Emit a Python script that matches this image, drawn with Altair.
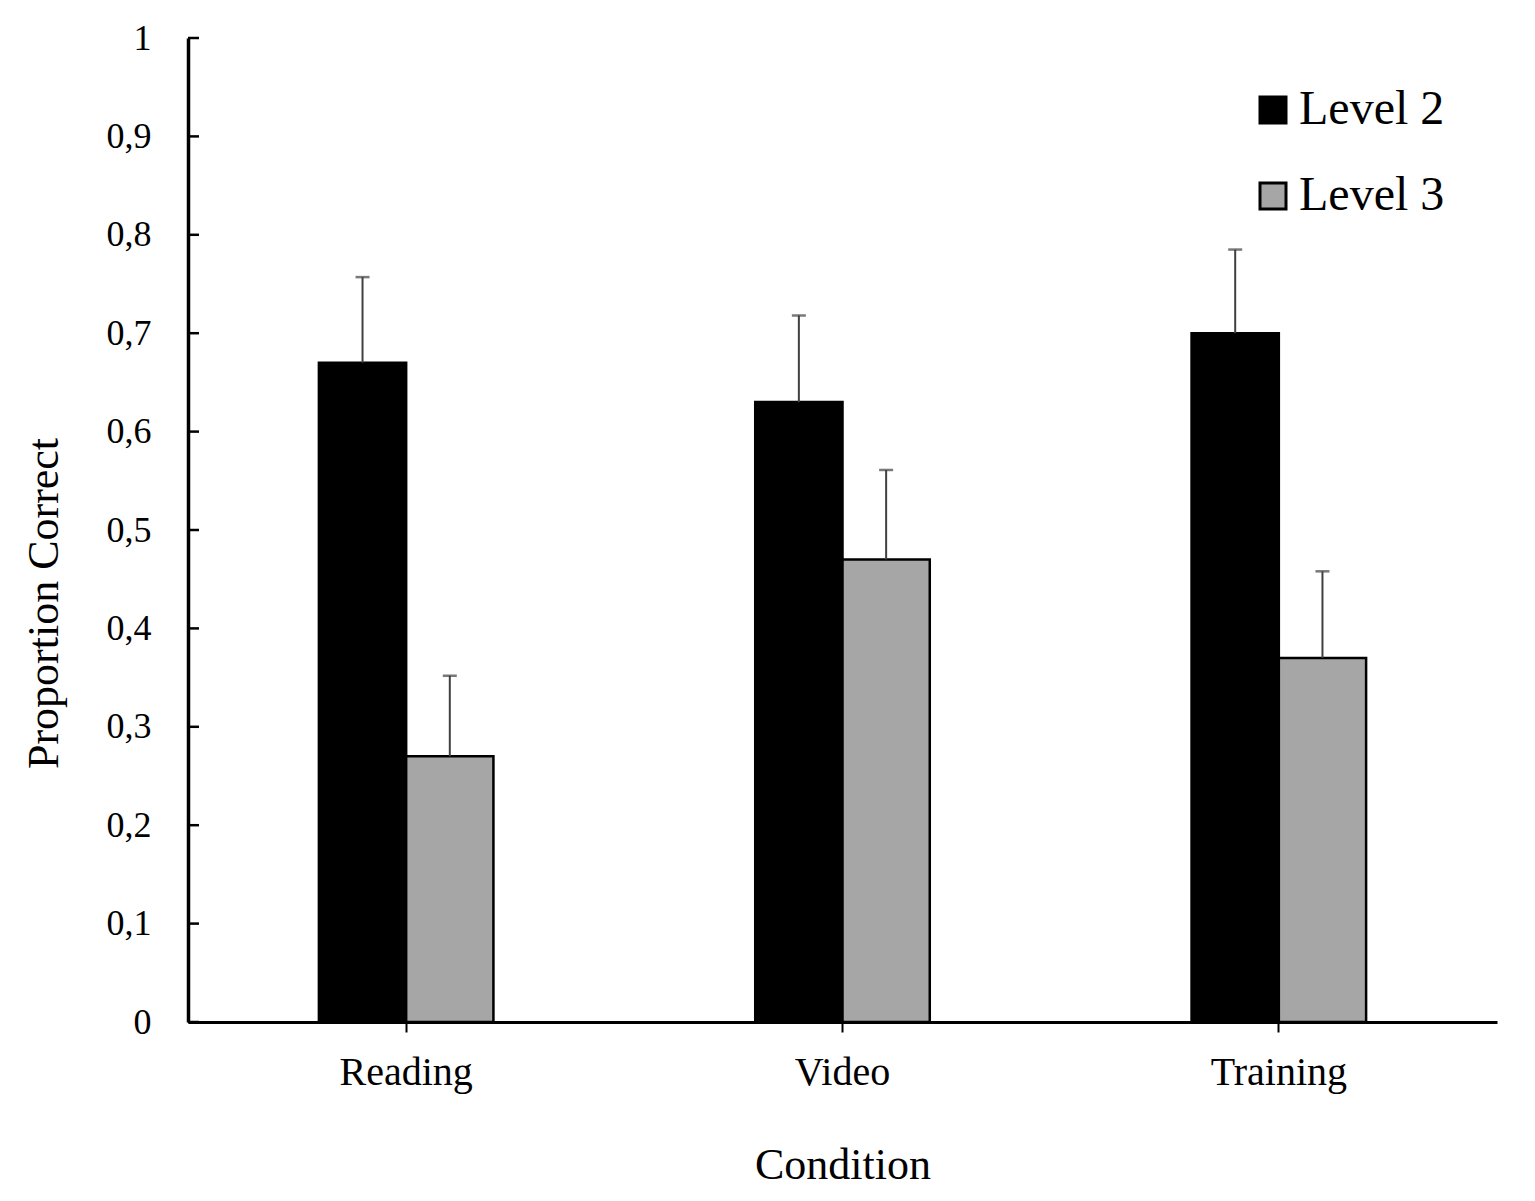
import altair as alt
import pandas as pd

# values
conditions = ["Reading", "Video", "Training"]
levels = ["Level 2", "Level 3"]
level2_mean = [0.67, 0.63, 0.70]
level3_mean = [0.27, 0.47, 0.37]
level2_se = [0.087, 0.088, 0.085]
level3_se = [0.082, 0.091, 0.088]
y_ticks = [0, 0.1, 0.2, 0.3, 0.4, 0.5, 0.6, 0.7, 0.8, 0.9, 1]

rows = []
for i, cond in enumerate(conditions):
    rows.append({"cond": cond, "level": levels[0], "value": level2_mean[i],
                 "upper": level2_mean[i] + level2_se[i]})
    rows.append({"cond": cond, "level": levels[1], "value": level3_mean[i],
                 "upper": level3_mean[i] + level3_se[i]})
data = pd.DataFrame(rows)
ticks = pd.DataFrame({"t": y_ticks})

FONT = "Liberation Serif"

x_enc = alt.X(
    "cond:N",
    sort=conditions,
    scale=alt.Scale(paddingInner=0.6, paddingOuter=0.3),
    axis=alt.Axis(
        title="Condition",
        labelAngle=0,
        labelFontSize=40,
        labelPadding=20,
        labelColor="black",
        tickSize=10,
        tickWidth=2,
        tickColor="black",
        domainWidth=3,
        domainColor="black",
        titleFontSize=44,
        titleFontWeight="normal",
        titleColor="black",
        titleBaseline="alphabetic",
        titleY=156,
    ),
)
x_off = alt.XOffset("level:N", sort=levels, scale=alt.Scale(paddingInner=0, paddingOuter=0))

y_enc = alt.Y(
    "value:Q",
    scale=alt.Scale(domain=[0, 1], nice=False),
    axis=alt.Axis(
        title="Proportion Correct",
        values=y_ticks,
        labelExpr="replace(format(datum.value, '~g'), '.', ',')",
        labelFontSize=36,
        labelPadding=37,
        labelColor="black",
        ticks=False,
        grid=False,
        domainWidth=3.5,
        domainColor="black",
        titleFontSize=44,
        titleFontWeight="normal",
        titleColor="black",
        titleAngle=-90,
        titleAlign="center",
        titleBaseline="alphabetic",
        titleX=-131,
        titleY=565,
    ),
)

base = alt.Chart(data)

bars = base.mark_bar(stroke="black", strokeWidth=2.5).encode(
    x=x_enc,
    xOffset=x_off,
    y=y_enc,
    color=alt.Color(
        "level:N",
        sort=levels,
        scale=alt.Scale(domain=levels, range=["#000000", "#a6a6a6"]),
        legend=alt.Legend(
            title=None,
            orient="none",
            legendX=1061,
            legendY=48,
            padding=0,
            symbolType="square",
            symbolSize=676,
            symbolStrokeColor="black",
            symbolStrokeWidth=3,
            labelFontSize=48,
            labelColor="black",
            labelOffset=2,
            rowPadding=38,
        ),
    ),
)

err_line = base.mark_rule(color="#404040", strokeWidth=2).encode(
    x=alt.X("cond:N", sort=conditions),
    xOffset=x_off,
    y="value:Q",
    y2="upper:Q",
)

err_cap = base.mark_tick(color="#404040", size=14, thickness=2.5).encode(
    x=alt.X("cond:N", sort=conditions),
    xOffset=x_off,
    y="upper:Q",
)

# inward y-axis ticks
y_tick_marks = alt.Chart(ticks).mark_rule(color="black", strokeWidth=2.5).encode(
    x=alt.value(0),
    x2=alt.value(11),
    y="t:Q",
)

chart = alt.layer(bars, err_line, err_cap, y_tick_marks).properties(
    width=1309,
    height=984,
    padding={"left": 180, "top": 30, "right": 30, "bottom": 171},
    autosize=alt.AutoSizeParams(type="none"),
).configure(
    font=FONT,
).configure_view(
    strokeWidth=0
)

chart.save("out.html", embed_options={"renderer": "svg", "actions": False})
